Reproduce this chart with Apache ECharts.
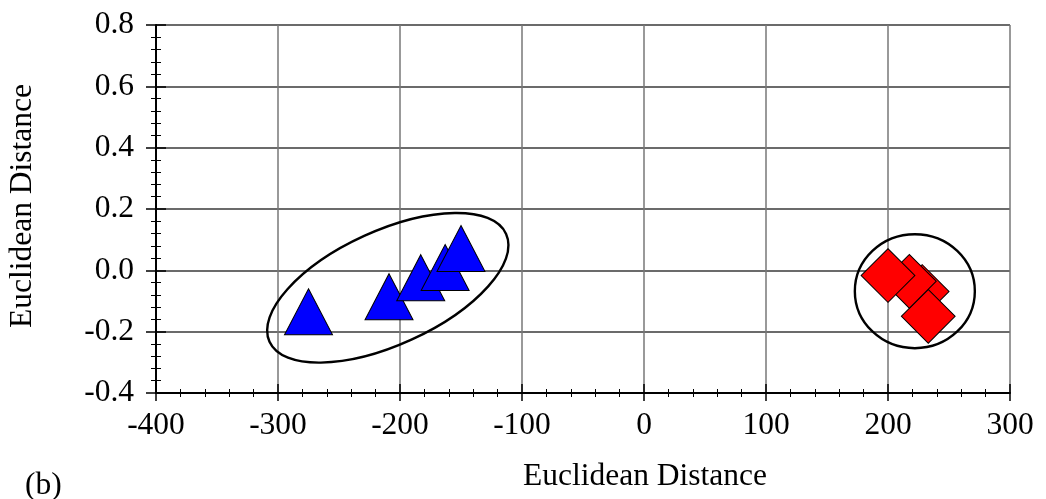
<!DOCTYPE html>
<html>
<head>
<meta charset="utf-8">
<script src="https://cdn.jsdelivr.net/npm/echarts@6/dist/echarts.min.js"></script>
<style>
html,body{margin:0;padding:0;background:#fff;}
#c{width:1046px;height:499px;}
</style>
</head>
<body>
<div id="c"></div>
<script>
// ---- data ----
const xTicks = [-400, -300, -200, -100, 0, 100, 200, 300];
const yTicks = [-0.4, -0.2, 0.0, 0.2, 0.4, 0.6, 0.8];
const yTickLabels = ['-0.4', '-0.2', '0.0', '0.2', '0.4', '0.6', '0.8'];
const triX = [-275, -209, -183, -163, -150];
const triY = [-0.135, -0.086, -0.024, 0.009, 0.071];
const diaX = [228, 233, 217.5, 200];
const diaY = [-0.069, -0.150, -0.036, -0.017];
const ellipseX = [-210, 222];
const ellipseY = [-0.057, -0.068];
const xTitle = 'Euclidean Distance';
const yTitle = 'Euclidean Distance';
const panelLabel = '(b)';

const FONT = "'Liberation Serif', 'Times New Roman', serif";
const FS = 31.5;

function yLabel(v) {
  for (let i = 0; i < yTicks.length; i++) {
    if (Math.abs(yTicks[i] - v) < 1e-9) return yTickLabels[i];
  }
  return '';
}

const chart = echarts.init(document.getElementById('c'), null, {renderer: 'canvas'});

const baseX = {
  type: 'value', min: xTicks[0], max: xTicks[xTicks.length - 1], interval: 100,
  gridIndex: 0, position: 'bottom'
};
const baseY = {
  type: 'value', min: yTicks[0], max: yTicks[yTicks.length - 1], interval: 0.2,
  gridIndex: 0, position: 'left'
};

const option = {
  animation: false,
  backgroundColor: '#fff',
  grid: {left: 156, top: 25, right: 36, bottom: 106, containLabel: false, outerBoundsMode: 'none'},
  xAxis: [
    Object.assign({}, baseX, {
      axisLine: {show: true, onZero: false, lineStyle: {color: '#000', width: 2}},
      axisTick: {show: true, inside: false, length: 8, lineStyle: {color: '#000', width: 1.5}},
      minorTick: {show: true, splitNumber: 5, length: 4, lineStyle: {color: '#000', width: 1}},
      axisLabel: {show: true, margin: 17, color: '#000', fontFamily: FONT, fontSize: FS,
        formatter: v => String(Math.round(v))},
      splitLine: {show: true, lineStyle: {color: '#777', width: 1.5}}
    }),
    Object.assign({}, baseX, {
      axisLine: {show: false, onZero: false},
      axisTick: {show: true, inside: true, length: 9, lineStyle: {color: '#000', width: 1.5}},
      minorTick: {show: true, splitNumber: 5, length: 4, lineStyle: {color: '#000', width: 1}},
      axisLabel: {show: false},
      splitLine: {show: false}
    })
  ],
  yAxis: [
    Object.assign({}, baseY, {
      axisLine: {show: true, onZero: false, lineStyle: {color: '#000', width: 2}},
      axisTick: {show: true, inside: false, length: 10, lineStyle: {color: '#000', width: 1.5}},
      minorTick: {show: true, splitNumber: 5, length: 5, lineStyle: {color: '#000', width: 1}},
      axisLabel: {show: true, margin: 22, color: '#000', fontFamily: FONT, fontSize: FS,
        formatter: yLabel},
      splitLine: {show: true, lineStyle: {color: '#3a3a3a', width: 1.5}}
    }),
    Object.assign({}, baseY, {
      axisLine: {show: false, onZero: false},
      axisTick: {show: true, inside: true, length: 10, lineStyle: {color: '#000', width: 1.5}},
      minorTick: {show: true, splitNumber: 5, length: 5, lineStyle: {color: '#000', width: 1}},
      axisLabel: {show: false},
      splitLine: {show: false}
    })
  ],
  series: [
    {
      type: 'scatter', xAxisIndex: 0, yAxisIndex: 0,
      symbol: 'triangle', symbolSize: [48, 46],
      itemStyle: {color: '#0000ff', borderColor: '#000', borderWidth: 1, opacity: 1},
      data: triX.map((x, i) => [x, triY[i]]),
      z: 5
    },
    {
      type: 'scatter', xAxisIndex: 0, yAxisIndex: 0,
      symbol: 'rect', symbolSize: [38, 38], symbolRotate: 45,
      itemStyle: {color: '#ff0000', borderColor: '#000', borderWidth: 1, opacity: 1},
      data: diaX.map((x, i) => [x, diaY[i]]),
      z: 5
    }
  ]
};
chart.setOption(option);

// annotations: titles, panel label and cluster ellipses
const ellipseStyle = [
  {rx: 130, ry: 57, rot: 24.5},
  {rx: 60, ry: 57, rot: 0}
];
const gfx = [];
ellipseX.forEach((x, i) => {
  const p = chart.convertToPixel({xAxisIndex: 0, yAxisIndex: 0}, [x, ellipseY[i]]);
  gfx.push({
    type: 'ellipse', x: p[0], y: p[1], rotation: ellipseStyle[i].rot * Math.PI / 180,
    shape: {cx: 0, cy: 0, rx: ellipseStyle[i].rx, ry: ellipseStyle[i].ry},
    style: {fill: null, stroke: '#000', lineWidth: 2.4}, z: 10, silent: true
  });
});
gfx.push({
  type: 'text', x: 645, y: 477, silent: true, z: 10,
  style: {text: xTitle, font: FS + 'px ' + FONT, fill: '#000', align: 'center', verticalAlign: 'middle'}
});
gfx.push({
  type: 'text', x: 23, y: 206, rotation: Math.PI / 2, silent: true, z: 10,
  style: {text: yTitle, font: FS + 'px ' + FONT, fill: '#000', align: 'center', verticalAlign: 'middle'}
});
gfx.push({
  type: 'text', x: 25, y: 486, silent: true, z: 10,
  style: {text: panelLabel, font: FS + 'px ' + FONT, fill: '#000', align: 'left', verticalAlign: 'middle'}
});
chart.setOption({graphic: gfx});
</script>
</body>
</html>
